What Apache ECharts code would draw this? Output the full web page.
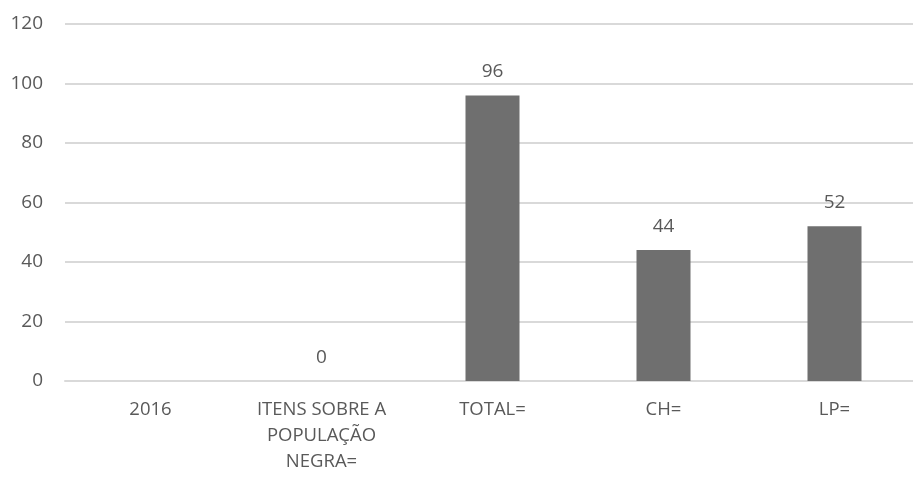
<!DOCTYPE html>
<html>
<head>
<meta charset="utf-8">
<script src="https://cdn.jsdelivr.net/npm/echarts@6/dist/echarts.min.js"></script>
<style>html,body{margin:0;padding:0;background:#fff;}#c{width:913px;height:481px;}</style>
</head>
<body>
<div id="c"></div>
<script>
const categories = ["2016", "ITENS SOBRE A\nPOPULAÇÃO\nNEGRA=", "TOTAL=", "CH=", "LP="];
const values = [null, 0, 96, 44, 52];
const yTicks = { min: 0, max: 120, interval: 20 };

const chart = echarts.init(document.getElementById('c'));
chart.setOption({
  animation: false,
  grid: { left: 65, width: 855, top: 24, bottom: 100, containLabel: false, outerBoundsMode: 'none' },
  xAxis: {
    type: 'category',
    data: categories,
    axisLine: { show: true, lineStyle: { color: '#d9d9d9', width: 2 } },
    axisTick: { show: false },
    axisLabel: { color: '#595959', fontFamily: 'Open Sans', fontSize: 18.5, lineHeight: 26, margin: 16, interval: 0 }
  },
  yAxis: {
    type: 'value',
    min: yTicks.min, max: yTicks.max, interval: yTicks.interval,
    axisLine: { show: false },
    axisTick: { show: false },
    splitLine: { lineStyle: { color: '#d9d9d9', width: 2 } },
    axisLabel: { color: '#595959', fontFamily: 'Open Sans', fontSize: 19, margin: 22 }
  },
  series: [{
    type: 'bar',
    data: values,
    barWidth: 54,
    itemStyle: { color: '#6f6f6f' },
    label: { show: true, position: 'top', distance: 14, color: '#595959', fontFamily: 'Open Sans', fontSize: 19 }
  }]
});
</script>
</body>
</html>
